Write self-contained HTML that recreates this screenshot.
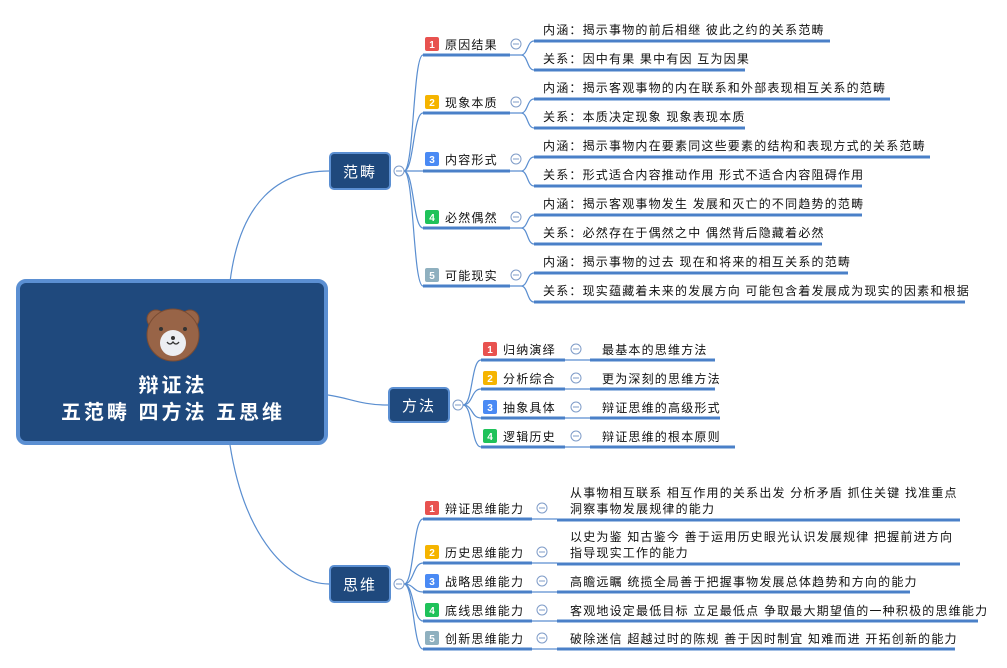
<!DOCTYPE html>
<html><head><meta charset="utf-8"><style>
body{margin:0;background:#fff;width:1007px;height:668px;overflow:hidden}
svg{display:block}
text{font-family:"Liberation Sans","Noto Sans CJK SC",sans-serif;font-size:12px;fill:#111;letter-spacing:1.2px}
.w{fill:#fff}
.ln{stroke:#5a8ed0;stroke-width:1.2;fill:none}
.ul{stroke:#4a80c8;stroke-width:3;fill:none}
.cc{fill:#fff;stroke:#7f9cc8;stroke-width:1}
.b{font-size:10px;font-weight:bold;fill:#fff;letter-spacing:0}
</style></head><body>
<svg width="1007" height="668" viewBox="0 0 1007 668">
<path class="ln" d="M230,282 C240,200 280,171 329,171"/>
<path class="ln" d="M328,395 C350,398 360,405 388,405"/>
<path class="ln" d="M230,445 C245,540 290,584 329,584"/>

<rect x="18" y="281" width="308" height="162" rx="8" fill="#1f497d" stroke="#5b8fd2" stroke-width="4"/>
<g transform="translate(173,333)">
<circle cx="-17" cy="-14" r="9" fill="#986447" stroke="#7a4c33"/>
<circle cx="17" cy="-14" r="9" fill="#986447" stroke="#7a4c33"/>
<circle cx="0" cy="2" r="26" fill="#986447" stroke="#7a4c33"/>
<circle cx="0" cy="10" r="13" fill="#eceef2"/>
<circle cx="-12" cy="-4" r="2" fill="#333"/><circle cx="12" cy="-4" r="2" fill="#333"/>
<circle cx="0" cy="5" r="2" fill="#333"/>
<path d="M-6,9 Q-3,13 0,9 Q3,13 6,9" stroke="#333" stroke-width="1.3" fill="none"/>
</g>
<text x="173" y="392" text-anchor="middle" class="w" style="font-size:20px;font-weight:bold;letter-spacing:3px">辩证法</text>
<text x="173" y="419" text-anchor="middle" class="w" style="font-size:20px;font-weight:bold;letter-spacing:3px">五范畴 四方法 五思维</text>

<rect x="330" y="153" width="60" height="36" rx="4" fill="#1f497d" stroke="#5b8fd2" stroke-width="2"/>
<text x="360" y="177" text-anchor="middle" class="w" style="font-size:15px;letter-spacing:2px">范畴</text>
<circle class="cc" cx="399" cy="171" r="5"/><path d="M396,171h6" stroke="#7f9cc8"/>
<path class="ln" d="M404,171 C414,171 413,55 423,55 M404,171 C414,171 413,113 423,113 M404,171 H423 M404,171 C414,171 413,228 423,228 M404,171 C414,171 413,286 423,286"/>

<rect x="389" y="388" width="60" height="34" rx="4" fill="#1f497d" stroke="#5b8fd2" stroke-width="2"/>
<text x="419" y="411" text-anchor="middle" class="w" style="font-size:15px;letter-spacing:2px">方法</text>
<circle class="cc" cx="458" cy="405" r="5"/><path d="M455,405h6" stroke="#7f9cc8"/>
<path class="ln" d="M463,405 C473,405 471,360 481,360 M463,405 C473,405 471,389 481,389 M463,405 C473,405 471,418 481,418 M463,405 C473,405 471,447 481,447"/>

<rect x="330" y="566" width="60" height="36" rx="4" fill="#1f497d" stroke="#5b8fd2" stroke-width="2"/>
<text x="360" y="590" text-anchor="middle" class="w" style="font-size:15px;letter-spacing:2px">思维</text>
<circle class="cc" cx="399" cy="584" r="5"/><path d="M396,584h6" stroke="#7f9cc8"/>
<path class="ln" d="M404,584 C414,584 413,519 423,519 M404,584 C414,584 413,563 423,563 M404,584 C414,584 413,592 423,592 M404,584 C414,584 413,621 423,621 M404,584 C414,584 413,649 423,649"/>

<g>
<path class="ul" d="M423,55H510 M423,113H510 M423,171H510 M423,228H510 M423,286H510"/>
<rect x="425" y="37" width="14" height="14" rx="2" fill="#e8524f"/><text x="432" y="48" text-anchor="middle" class="b">1</text><text x="445" y="49">原因结果</text>
<rect x="425" y="95" width="14" height="14" rx="2" fill="#f5b400"/><text x="432" y="106" text-anchor="middle" class="b">2</text><text x="445" y="107">现象本质</text>
<rect x="425" y="152" width="14" height="14" rx="2" fill="#4a8af4"/><text x="432" y="163" text-anchor="middle" class="b">3</text><text x="445" y="164">内容形式</text>
<rect x="425" y="210" width="14" height="14" rx="2" fill="#1fc25a"/><text x="432" y="221" text-anchor="middle" class="b">4</text><text x="445" y="222">必然偶然</text>
<rect x="425" y="268" width="14" height="14" rx="2" fill="#8fb0bf"/><text x="432" y="279" text-anchor="middle" class="b">5</text><text x="445" y="280">可能现实</text>
<circle class="cc" cx="516" cy="44" r="5"/><circle class="cc" cx="516" cy="102" r="5"/><circle class="cc" cx="516" cy="159" r="5"/><circle class="cc" cx="516" cy="217" r="5"/><circle class="cc" cx="516" cy="275" r="5"/>
<path d="M513,44h6M513,102h6M513,159h6M513,217h6M513,275h6" stroke="#7f9cc8"/>
<path class="ln" d="M510,55H521 C528,55 527,41 534,41 M521,55 C528,55 527,70 534,70
M510,113H521 C528,113 527,99 534,99 M521,113 C528,113 527,128 534,128
M510,171H521 C528,171 527,157 534,157 M521,171 C528,171 527,186 534,186
M510,228H521 C528,228 527,215 534,215 M521,228 C528,228 527,244 534,244
M510,286H521 C528,286 527,273 534,273 M521,286 C528,286 527,302 534,302"/>
<path class="ul" d="M534,41H830 M534,70H745 M534,99H890 M534,128H745 M534,157H930 M534,186H862 M534,215H862 M534,244H822 M534,273H848 M534,302H965"/>
<text x="543" y="34">内涵：揭示事物的前后相继 彼此之约的关系范畴</text>
<text x="543" y="63">关系：因中有果 果中有因 互为因果</text>
<text x="543" y="92">内涵：揭示客观事物的内在联系和外部表现相互关系的范畴</text>
<text x="543" y="121">关系：本质决定现象 现象表现本质</text>
<text x="543" y="150">内涵：揭示事物内在要素同这些要素的结构和表现方式的关系范畴</text>
<text x="543" y="179">关系：形式适合内容推动作用 形式不适合内容阻碍作用</text>
<text x="543" y="208">内涵：揭示客观事物发生 发展和灭亡的不同趋势的范畴</text>
<text x="543" y="237">关系：必然存在于偶然之中 偶然背后隐藏着必然</text>
<text x="543" y="266">内涵：揭示事物的过去 现在和将来的相互关系的范畴</text>
<text x="543" y="295">关系：现实蕴藏着未来的发展方向 可能包含着发展成为现实的因素和根据</text>
</g>

<g>
<path class="ul" d="M481,360H565 M481,389H565 M481,418H565 M481,447H565"/>
<rect x="483" y="342" width="14" height="14" rx="2" fill="#e8524f"/><text x="490" y="353" text-anchor="middle" class="b">1</text><text x="503" y="354">归纳演绎</text>
<rect x="483" y="371" width="14" height="14" rx="2" fill="#f5b400"/><text x="490" y="382" text-anchor="middle" class="b">2</text><text x="503" y="383">分析综合</text>
<rect x="483" y="400" width="14" height="14" rx="2" fill="#4a8af4"/><text x="490" y="411" text-anchor="middle" class="b">3</text><text x="503" y="412">抽象具体</text>
<rect x="483" y="429" width="14" height="14" rx="2" fill="#1fc25a"/><text x="490" y="440" text-anchor="middle" class="b">4</text><text x="503" y="441">逻辑历史</text>
<circle class="cc" cx="576" cy="349" r="5"/><circle class="cc" cx="576" cy="378" r="5"/><circle class="cc" cx="576" cy="407" r="5"/><circle class="cc" cx="576" cy="436" r="5"/>
<path d="M573,349h6M573,378h6M573,407h6M573,436h6" stroke="#7f9cc8"/>
<path class="ln" d="M565,360H590 M565,389H590 M565,418H590 M565,447H590"/>
<path class="ul" d="M590,360H715 M590,389H715 M590,418H720 M590,447H735"/>
<text x="602" y="354">最基本的思维方法</text>
<text x="602" y="383">更为深刻的思维方法</text>
<text x="602" y="412">辩证思维的高级形式</text>
<text x="602" y="441">辩证思维的根本原则</text>
</g>

<g>
<path class="ul" d="M423,519H532 M423,563H532 M423,592H532 M423,621H532 M423,649H532"/>
<rect x="425" y="501" width="14" height="14" rx="2" fill="#e8524f"/><text x="432" y="512" text-anchor="middle" class="b">1</text><text x="445" y="513">辩证思维能力</text>
<rect x="425" y="545" width="14" height="14" rx="2" fill="#f5b400"/><text x="432" y="556" text-anchor="middle" class="b">2</text><text x="445" y="557">历史思维能力</text>
<rect x="425" y="574" width="14" height="14" rx="2" fill="#4a8af4"/><text x="432" y="585" text-anchor="middle" class="b">3</text><text x="445" y="586">战略思维能力</text>
<rect x="425" y="603" width="14" height="14" rx="2" fill="#1fc25a"/><text x="432" y="614" text-anchor="middle" class="b">4</text><text x="445" y="615">底线思维能力</text>
<rect x="425" y="631" width="14" height="14" rx="2" fill="#8fb0bf"/><text x="432" y="642" text-anchor="middle" class="b">5</text><text x="445" y="643">创新思维能力</text>
<circle class="cc" cx="542" cy="508" r="5"/><circle class="cc" cx="542" cy="552" r="5"/><circle class="cc" cx="542" cy="581" r="5"/><circle class="cc" cx="542" cy="610" r="5"/><circle class="cc" cx="542" cy="638" r="5"/>
<path d="M539,508h6M539,552h6M539,581h6M539,610h6M539,638h6" stroke="#7f9cc8"/>
<path class="ln" d="M532,519H557 M532,563H557 M532,592H557 M532,621H557 M532,649H557"/>
<path class="ul" d="M557,520H960 M557,564H960 M557,592H910 M557,621H978 M557,649H955"/>
<text x="570" y="497">从事物相互联系 相互作用的关系出发 分析矛盾 抓住关键 找准重点</text>
<text x="570" y="513">洞察事物发展规律的能力</text>
<text x="570" y="541">以史为鉴 知古鉴今 善于运用历史眼光认识发展规律 把握前进方向</text>
<text x="570" y="557">指导现实工作的能力</text>
<text x="570" y="586">高瞻远瞩 统揽全局善于把握事物发展总体趋势和方向的能力</text>
<text x="570" y="615">客观地设定最低目标 立足最低点 争取最大期望值的一种积极的思维能力</text>
<text x="570" y="643">破除迷信 超越过时的陈规 善于因时制宜 知难而进 开拓创新的能力</text>
</g>
</svg>
</body></html>
